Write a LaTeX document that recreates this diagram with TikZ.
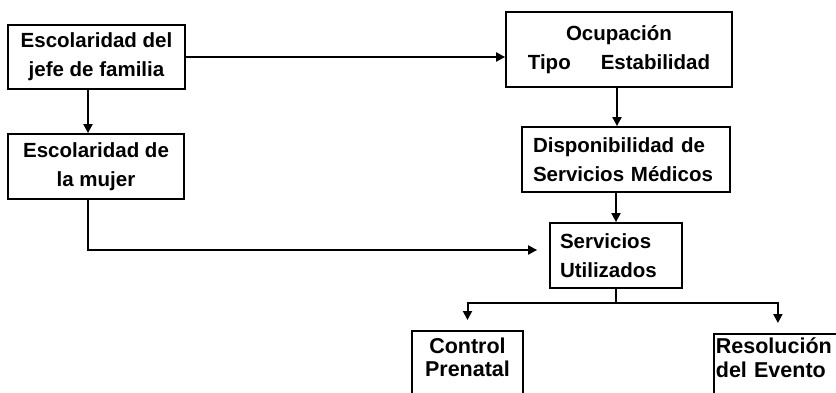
\documentclass[tikz,border=0pt]{standalone}
\usepackage{fontspec}
\setmainfont{Liberation Sans}
\usetikzlibrary{arrows.meta}
\begin{document}
\begin{tikzpicture}[x=1pt,y=-1pt,
  box/.style={draw,line width=1.8pt,inner sep=0pt,font=\fontsize{20.5}{29}\selectfont\bfseries},
  lowbox/.style={draw,line width=1.8pt,inner xsep=0pt,font=\fontsize{21.5}{23.5}\selectfont\bfseries,text depth=60pt},
  arr/.style={line width=2pt,-{Triangle[length=9pt,width=9pt]}},
  ln/.style={line width=2pt}]
\useasboundingbox (0,0) rectangle (836,393);
\clip (0,0) rectangle (836,393);
\fill[white] (0,0) rectangle (836,393);
\node[box,align=center,minimum width=177pt,minimum height=64pt] (jefe) at (96.5,57) {Escolaridad del\\jefe de familia};
\node[box,align=center,minimum width=176pt,minimum height=65pt] (mujer) at (96,166.5) {Escolaridad de\\la mujer};
\node[box,align=center,minimum width=226pt,minimum height=75pt] (ocup) at (619,49.5) {Ocupación\\Tipo\hspace{30pt}Estabilidad};
\node[box,align=left,text width=186pt,inner xsep=11pt,minimum height=65pt] (disp) at (626,159.5) {Disponibilidad de\\Servicios Médicos};
\node[box,align=left,text width=112pt,inner xsep=10pt,minimum height=65pt] (serv) at (616,255.5) {Servicios\\Utilizados};
\node[lowbox,align=center,minimum width=111pt,anchor=north,inner ysep=7pt] (ctrl) at (467.5,330) {Control\\Prenatal};
\node[lowbox,align=left,text width=124pt,inner xsep=2pt,anchor=north west,inner ysep=4pt] (res) at (713,333) {Resolución\\del Evento};
\coordinate (split) at (616,303);
\draw[arr] (jefe.east) -- (jefe.east -| ocup.west);
\draw[arr] ([xshift=-8.5pt]jefe.south) -- ([xshift=-8.5pt]jefe.south |- mujer.north);
\draw[arr,shorten >=12pt] ([xshift=-8pt]mujer.south) |- (serv.west |- 0,250);
\draw[arr] ([xshift=-2pt]ocup.south) -- ([xshift=-2pt]ocup.south |- disp.north);
\draw[arr] (disp.south -| serv.north) -- (serv.north);
\draw[ln] (serv.south) -- (split);
\draw[arr,shorten >=10pt] (split) -| (ctrl.north);
\draw[arr,shorten >=10pt] (split) -| (res.north);
\end{tikzpicture}
\end{document}
